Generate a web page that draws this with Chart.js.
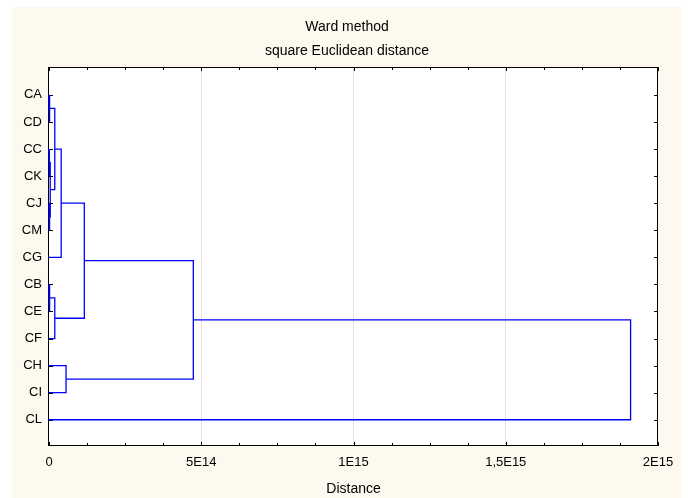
<!DOCTYPE html>
<html>
<head>
<meta charset="utf-8">
<title>Ward method dendrogram</title>
<script src="https://cdn.jsdelivr.net/npm/chart.js@4/dist/chart.umd.min.js"></script>
<style>
  html, body { margin: 0; padding: 0; background: #ffffff; }
  #wrap { width: 689px; height: 498px; }
</style>
</head>
<body>
<div id="wrap"><canvas id="tree" width="689" height="498"></canvas></div>
<script>
// Leaf order along the vertical axis (top to bottom)
const leaves = ['CA', 'CD', 'CC', 'CK', 'CJ', 'CM', 'CG', 'CB', 'CE', 'CF', 'CH', 'CI', 'CL'];

// Agglomeration steps: step k joins mergeLeft[k] with mergeRight[k];
// the cluster it creates is called 'N' + (k + 1)
const mergeLeft  = ['CA', 'CC', 'CJ', 'N2', 'N1', 'N5', 'CB', 'N7', 'CH', 'N6', 'N10', 'N11'];
const mergeRight = ['CD', 'CK', 'CM', 'N3', 'N4', 'CG', 'CE', 'CF', 'CI', 'N8', 'N9',  'CL'];
const mergeDistance = [3e12, 2e12, 3e12, 4e12, 1.9e13, 4.0e13, 3e12, 1.9e13, 5.6e13, 1.16e14, 4.74e14, 1.91e15];

// Distance axis ticks
const xTickValues = [0, 5e14, 1e15, 1.5e15, 2e15];
const xTickLabels = ['0', '5E14', '1E15', '1,5E15', '2E15'];
const xMinorPerMajor = 4;

const FONT = '"Liberation Sans", Arial, sans-serif';
const LINE_BLUE = '#0000ff';
const PANEL = '#fdf9ee';

// Build one bracket (child -> merge height -> other child) per agglomeration step
const nodes = {};
leaves.forEach((name, i) => { nodes[name] = { y: i, d: 0 }; });
const datasets = mergeLeft.map((leftName, k) => {
  const L = nodes[leftName];
  const R = nodes[mergeRight[k]];
  const d = mergeDistance[k];
  nodes['N' + (k + 1)] = { y: (L.y + R.y) / 2, d: d };
  return {
    label: 'N' + (k + 1),
    data: [{ x: L.d, y: L.y }, { x: d, y: L.y }, { x: d, y: R.y }, { x: R.d, y: R.y }],
    showLine: true,
    borderColor: LINE_BLUE,
    backgroundColor: LINE_BLUE,
    borderWidth: 1.3,
    pointRadius: 0,
    tension: 0,
    clip: false
  };
});

// Panel background, white plot area, frame and inward tick marks
const framePlugin = {
  id: 'frame',
  beforeDraw(chart) {
    const { ctx, chartArea: a } = chart;
    ctx.save();
    ctx.fillStyle = '#ffffff';
    ctx.fillRect(0, 0, chart.width, chart.height);
    ctx.fillStyle = PANEL;
    ctx.fillRect(12, 7, 670, 491);
    ctx.fillStyle = '#ffffff';
    ctx.fillRect(a.left, a.top, a.right - a.left, a.bottom - a.top);
    ctx.restore();
  },
  beforeDatasetsDraw(chart) {
    const { ctx, chartArea: a, scales } = chart;
    const xs = scales.x, ys = scales.y;
    ctx.save();
    ctx.strokeStyle = '#000000';
    ctx.lineWidth = 1;
    ctx.beginPath();
    // x ticks (major and minor) on bottom and top edges
    for (let i = 0; i < xTickValues.length; i++) {
      const v0 = xTickValues[i];
      const steps = i < xTickValues.length - 1 ? xMinorPerMajor : 1;
      const v1 = i < xTickValues.length - 1 ? xTickValues[i + 1] : v0;
      for (let s = 0; s < steps; s++) {
        const v = v0 + (v1 - v0) * s / xMinorPerMajor;
        const px = Math.round(xs.getPixelForValue(v)) + 0.5;
        const len = s === 0 ? 4 : 3;
        ctx.moveTo(px, a.bottom); ctx.lineTo(px, a.bottom - len);
        ctx.moveTo(px, a.top); ctx.lineTo(px, a.top + len);
      }
    }
    // leaf ticks on left and right edges
    leaves.forEach((_, i) => {
      const py = Math.round(ys.getPixelForValue(i)) + 0.5;
      ctx.moveTo(a.left, py); ctx.lineTo(a.left + 4, py);
      ctx.moveTo(a.right, py); ctx.lineTo(a.right - 4, py);
    });
    ctx.stroke();
    ctx.strokeRect(Math.round(a.left) - 0.5, Math.round(a.top) + 0.5,
                   Math.round(a.right - a.left), Math.round(a.bottom - a.top) - 1);
    ctx.restore();
  }
};

new Chart(document.getElementById('tree'), {
  type: 'scatter',
  data: { datasets: datasets },
  options: {
    responsive: false,
    animation: false,
    events: [],
    layout: { padding: { left: 5, right: 0, top: 0, bottom: 0 } },
    plugins: {
      legend: { display: false },
      tooltip: { enabled: false },
      title: {
        display: true,
        text: ['Ward method', 'square Euclidean distance'],
        color: '#000000',
        font: { family: FONT, size: 14, weight: 'normal', lineHeight: 1.68 },
        padding: { top: 15.5, bottom: 4.5 }
      }
    },
    scales: {
      x: {
        type: 'linear',
        position: 'bottom',
        min: 0,
        max: 2e15,
        afterBuildTicks: (scale) => { scale.ticks = xTickValues.map(v => ({ value: v })); },
        afterFit: (scale) => { scale.height = 52; },
        ticks: {
          autoSkip: false,
          maxRotation: 0,
          padding: 9,
          color: '#000000',
          font: { family: FONT, size: 13 },
          callback: (value) => {
            const i = xTickValues.indexOf(value);
            return i >= 0 ? xTickLabels[i] : '';
          }
        },
        grid: {
          drawTicks: false,
          lineWidth: 1,
          color: (ctx) => (ctx.tick && (ctx.tick.value === 0 || ctx.tick.value === 2e15)) ? 'rgba(0,0,0,0)' : '#c8c8c8'
        },
        border: { display: false, dash: [1, 1] },
        title: {
          display: true,
          text: 'Distance',
          color: '#000000',
          font: { family: FONT, size: 14 },
          padding: { top: 0, bottom: 0 }
        }
      },
      y: {
        type: 'linear',
        position: 'left',
        reverse: true,
        min: -1.03,
        max: 12.97,
        afterBuildTicks: (scale) => { scale.ticks = leaves.map((_, i) => ({ value: i })); },
        afterFit: (scale) => { scale.width = 44; },
        ticks: {
          autoSkip: false,
          padding: 7,
          color: '#000000',
          font: { family: FONT, size: 13 },
          callback: (value) => leaves[value] !== undefined ? leaves[value] : ''
        },
        grid: { display: false, drawTicks: false },
        border: { display: false }
      },
      yRight: {
        type: 'linear',
        position: 'right',
        min: -1.03,
        max: 12.97,
        afterFit: (scale) => { scale.width = 31; },
        ticks: { display: false },
        grid: { display: false, drawTicks: false },
        border: { display: false }
      }
    }
  },
  plugins: [framePlugin]
});
</script>
</body>
</html>
